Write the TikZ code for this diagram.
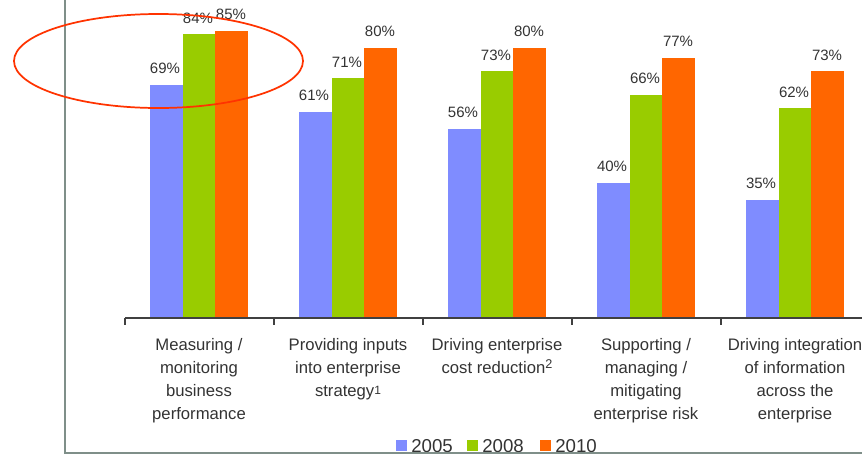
\documentclass[tikz,border=0pt]{standalone}
\usepackage{fontspec}
\setmainfont{Liberation Sans}
\usepackage{xcolor}
\definecolor{bluebar}{HTML}{7F8CFF}
\definecolor{greenbar}{HTML}{99CC00}
\definecolor{orangebar}{HTML}{FF6600}
\definecolor{framegray}{HTML}{7F8F89}
\definecolor{txtgray}{HTML}{333333}
\definecolor{ringred}{HTML}{FF3300}

\begin{document}
\begin{tikzpicture}[x=0.75pt,y=-0.75pt,
  pct/.style={anchor=base,inner sep=0pt,text=txtgray,font=\fontsize{11.25}{13}\selectfont},
  cat/.style={anchor=north,align=center,inner sep=0pt,text=txtgray,font=\fontsize{12.5}{17.25}\selectfont},
  key/.style={anchor=base west,inner sep=0pt,text=txtgray,font=\fontsize{14}{15}\selectfont}]

\useasboundingbox (0,0) rectangle (862,454);

% bars
\fill [bluebar] (150,318) rectangle (183,84.8);
\fill [greenbar] (183,318) rectangle (215,34.1);
\fill [orangebar] (215,318) rectangle (248,30.7);

\fill [bluebar] (299,318) rectangle (332,111.8);
\fill [greenbar] (332,318) rectangle (364,78.0);
\fill [orangebar] (364,318) rectangle (397,47.6);

\fill [bluebar] (448,318) rectangle (481,128.7);
\fill [greenbar] (481,318) rectangle (513,71.3);
\fill [orangebar] (513,318) rectangle (546,47.6);

\fill [bluebar] (597,318) rectangle (630,182.8);
\fill [greenbar] (630,318) rectangle (662,94.9);
\fill [orangebar] (662,318) rectangle (695,57.7);

\fill [bluebar] (746,318) rectangle (779,199.7);
\fill [greenbar] (779,318) rectangle (811,108.4);
\fill [orangebar] (811,318) rectangle (844,71.3);

% axis
\draw [darkgray, line width=1.1pt] (125,318) -- (862,318);
\draw [darkgray, line width=1.1pt] (125,318) -- (125,325);
\draw [darkgray, line width=1.1pt] (274,318) -- (274,325);
\draw [darkgray, line width=1.1pt] (423,318) -- (423,325);
\draw [darkgray, line width=1.1pt] (572,318) -- (572,325);
\draw [darkgray, line width=1.1pt] (721,318) -- (721,325);

% values
\node [pct] (v1a) at (165,73.8) {69\%};
\node [pct] (v1b) at (198,23.1) {84\%};
\node [pct] (v1c) at (231,19.7) {85\%};

\node [pct] (v2a) at (314,100.8) {61\%};
\node [pct] (v2b) at (347,67.0) {71\%};
\node [pct] (v2c) at (380,36.6) {80\%};

\node [pct] (v3a) at (463,117.7) {56\%};
\node [pct] (v3b) at (496,60.3) {73\%};
\node [pct] (v3c) at (529,36.6) {80\%};

\node [pct] (v4a) at (612,171.8) {40\%};
\node [pct] (v4b) at (645,83.9) {66\%};
\node [pct] (v4c) at (678,46.7) {77\%};

\node [pct] (v5a) at (761,188.7) {35\%};
\node [pct] (v5b) at (794,97.4) {62\%};
\node [pct] (v5c) at (827,60.3) {73\%};

% categories
\node [cat] (cat1) at (199,338.5) {Measuring /\\monitoring\\business\\performance};
\node [cat] (cat2) at (348,338.5) {Providing inputs\\into enterprise\\strategy\raisebox{1.5pt}{\fontsize{9}{9}\selectfont 1}};
\node [cat] (cat3) at (497,338.5) {Driving enterprise\\cost reduction\raisebox{4pt}{\fontsize{9.5}{9}\selectfont 2}};
\node [cat] (cat4) at (646,338.5) {Supporting /\\managing /\\mitigating\\enterprise risk};
\node [cat] (cat5) at (795,338.5) {Driving integration\\of information\\across the\\enterprise};

% legend
\fill [bluebar] (395.5,440) rectangle (406.5,451);
\node [key] (k05) at (411,452) {2005};
\fill [greenbar] (467,440) rectangle (478,451);
\node [key] (k08) at (482,452) {2008};
\fill [orangebar] (539.5,440) rectangle (550.5,451);
\node [key] (k10) at (555,452) {2010};

% frame
\draw [framegray, line width=1.5pt] (65.2,0) -- (65.2,452.8) -- (862,452.8);

% ring
\draw [ringred, line width=1.3pt] (158.5,61) ellipse [x radius=144.5, y radius=47];

\end{tikzpicture}
\end{document}
